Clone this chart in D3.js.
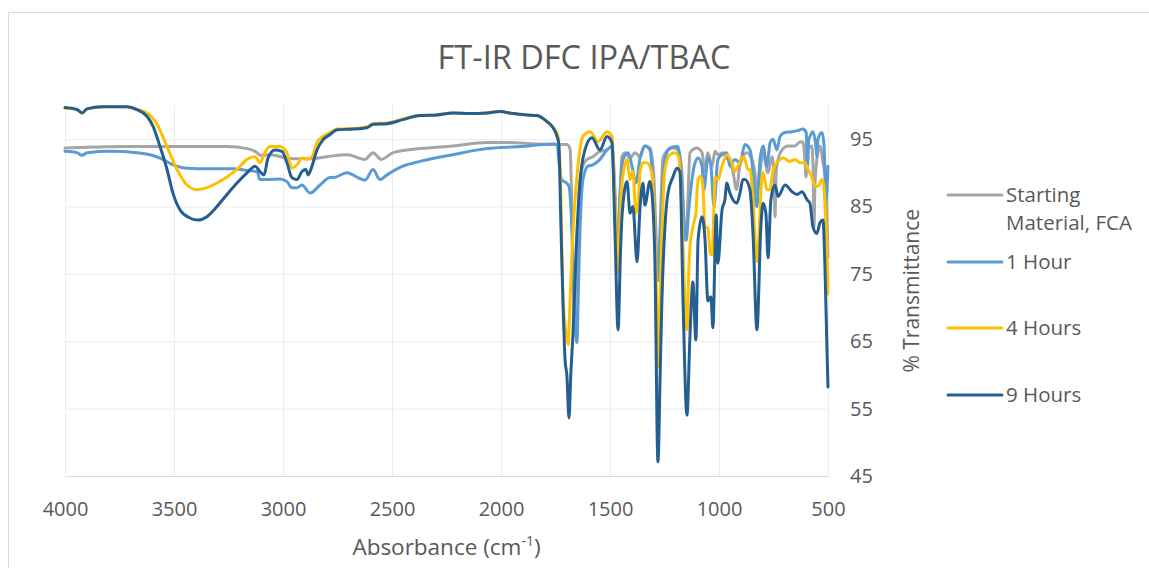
<!DOCTYPE html>
<html>
<head>
<meta charset="utf-8">
<script src="https://cdn.jsdelivr.net/npm/d3@7"></script>
<style>
  html, body { margin: 0; padding: 0; background: #fff; }
  svg { display: block; font-family: "Open Sans", sans-serif; }
</style>
</head>
<body>
<svg id="chart" width="1149" height="568"></svg>
<script>
// FT-IR spectra, [wavenumber cm-1, % transmittance], high -> low wavenumber
const startingMaterial = [
  [4000,93.7],[3900,93.8],[3716,93.9],[3413,93.9],[3257,93.9],[3165,93.6],[3119,93.0],[3106,92.6],
  [3060,92.7],[2982,92.2],[2954,92.1],[2862,92.1],[2798,92.4],[2706,92.7],[2624,92.0],[2587,93.0],
  [2550,92.0],[2495,93.0],[2372,93.6],[2220,94.0],[2064,94.5],[1972,94.5],[1835,94.3],[1697,94.2],
  [1683,93.5],[1672,80],[1662,66],[1652,72],[1640,88],[1625,91],[1606,92],[1578,92.4],[1546,93.2],
  [1514,93.4],[1491,94],[1478,88],[1465,78],[1455,86],[1445,92.4],[1431,93],[1408,92.2],[1385,93],
  [1362,92.4],[1340,94],[1317,93.7],[1300,90],[1290,82],[1280,75],[1270,82],[1257,92.2],[1234,93.4],
  [1211,93.7],[1188,93.4],[1170,90],[1156,80],[1145,84],[1133,93],[1101,93.7],[1078,93],[1064,90.2],
  [1051,93],[1032,91],[1018,93.2],[1005,92.7],[982,93],[964,92.2],[950,91.7],[935,90],[920,87.5],
  [905,91],[895,92],[872,93],[849,92],[835,90],[826,87],[812,90],[798,93],[775,90],[757,92.4],
  [748,90],[743,83.5],[738,90],[729,92],[711,93.4],[683,94],[651,94],[629,94.6],[615,94.6],[606,92],
  [601,89.4],[596,92],[592,93.4],[574,94],[568,90],[564,82],[560,88],[551,92],[537,94],[523,91.5],
  [512,89],[505,84],[500,77.5]
]

const oneHour = [
  [4000,93.2],[3945,93.0],[3922,92.6],[3899,93.0],[3794,93.2],[3670,93.0],[3610,92.7],[3564,92.2],
  [3505,91.2],[3440,90.7],[3335,90.6],[3229,90.6],[3151,90.3],[3119,90.2],[3106,89.0],[3074,89.0],
  [3014,89.1],[2982,88.7],[2959,87.8],[2936,87.8],[2913,88.2],[2876,87.0],[2830,88.2],[2784,89.3],
  [2771,89.3],[2706,90.0],[2656,89.3],[2624,88.9],[2587,90.5],[2555,89.0],[2523,89.7],[2450,91.0],
  [2372,91.7],[2220,92.7],[2064,93.6],[1913,93.9],[1761,94.3],[1743,94.2],[1732,91],[1722,89],
  [1700,88.5],[1688,88],[1678,84],[1665,72],[1652,64.8],[1644,74],[1638,81],[1624,89],[1601,91],
  [1578,91.2],[1546,92],[1514,93.4],[1491,93.9],[1478,86],[1466,76],[1455,86],[1440,92],[1417,93],
  [1399,91],[1381,88.5],[1362,92.2],[1340,94],[1317,93.4],[1300,86],[1290,78],[1280,74],[1270,80],
  [1262,86],[1248,92],[1225,93.7],[1188,93.9],[1170,88],[1160,82],[1150,80],[1140,84],[1124,89],
  [1110,91.5],[1096,92.2],[1078,91],[1069,87.5],[1051,92.2],[1037,91],[1023,85],[1005,92],[986,92.7],
  [964,93],[950,91],[927,92],[904,91.5],[881,94.2],[858,93.4],[844,90],[835,86],[826,85],[818,89],
  [812,92],[798,94],[780,91],[766,94.4],[752,95],[734,93.4],[720,95.4],[697,96],[665,96.1],[638,96.3],
  [615,96.5],[600,96],[594,91],[588,95],[583,95.4],[569,96.1],[556,94],[551,92.4],[546,95],[528,96],
  [519,94.5],[509,86],[500,91]
]

const fourHours = [
  [4000,99.6],[3945,99.4],[3922,98.9],[3899,99.5],[3826,99.8],[3716,99.8],[3670,99.4],[3624,98.9],
  [3578,97.2],[3532,93.9],[3486,90.5],[3440,88.2],[3395,87.5],[3349,87.8],[3303,88.5],[3257,89.4],
  [3211,90.5],[3165,92],[3128,92.4],[3106,91.5],[3083,93],[3060,93.9],[3014,93.9],[2982,93],
  [2959,90.7],[2936,91.2],[2913,92.2],[2890,92],[2867,92.4],[2844,94.5],[2817,95.4],[2784,96],
  [2752,96.5],[2679,96.6],[2615,96.8],[2587,97.3],[2523,97.4],[2450,98],[2372,98.5],[2294,98.6],
  [2220,98.9],[2142,98.8],[2064,98.9],[2005,99.1],[1945,98.8],[1881,98.6],[1835,98.5],[1789,97.6],
  [1761,96.8],[1738,95.4],[1728,90],[1715,71],[1700,66],[1692,64.5],[1682,72],[1670,81],[1647,91],
  [1624,95.4],[1592,96.1],[1555,94.6],[1514,96.1],[1491,95.4],[1480,88],[1472,81],[1463,75.1],
  [1455,82],[1445,88.5],[1422,92],[1408,89],[1395,90.2],[1381,84],[1370,86],[1362,90.2],[1349,91.5],
  [1331,91.5],[1308,90],[1296,82],[1289,76],[1280,61.2],[1270,72],[1262,81],[1248,90.5],[1225,92.7],
  [1202,93],[1184,92.2],[1173,86],[1165,78.6],[1147,66.7],[1138,76],[1133,79],[1120,82],[1106,84],
  [1096,89],[1083,89.5],[1074,88],[1064,82],[1051,81.8],[1040,78],[1032,77.8],[1023,85],[1018,89.3],
  [1005,89],[986,91],[964,92.7],[941,91.5],[927,90.2],[913,91],[890,92.4],[881,92],[867,90.5],
  [858,90.5],[844,86],[826,76.8],[815,82],[808,87],[798,90],[780,87.5],[766,87.5],[752,90.5],
  [729,91.7],[706,92.2],[674,91.7],[651,92],[629,91.5],[606,91.5],[592,90.5],[574,89.4],[560,88],
  [546,88],[528,89],[519,88],[512,84],[505,78.6],[500,72]
]

const nineHours = [
  [4000,99.7],[3945,99.4],[3922,98.9],[3899,99.5],[3826,99.8],[3716,99.8],[3670,99.4],[3624,98.4],
  [3596,96.9],[3564,93.9],[3532,90.5],[3505,87],[3472,84.5],[3427,83.3],[3390,83],[3349,83.5],
  [3303,85],[3257,86.8],[3211,88.5],[3165,90],[3128,91],[3106,90.2],[3087,89.7],[3069,92.2],
  [3037,93.4],[3005,93.2],[2982,91.5],[2959,89.3],[2936,89],[2913,90.2],[2895,90.5],[2885,89.7],
  [2867,91],[2844,93.4],[2817,94.9],[2784,95.7],[2752,96.4],[2679,96.5],[2615,96.7],[2587,97.2],
  [2523,97.3],[2450,97.9],[2372,98.5],[2294,98.6],[2220,98.9],[2142,98.8],[2064,98.9],[2005,99.1],
  [1945,98.8],[1881,98.6],[1835,98.5],[1789,97.6],[1761,96.7],[1743,95.4],[1735,94.3],[1725,82],
  [1715,70],[1706,62.2],[1698,60],[1688,53.6],[1680,60],[1670,66],[1652,81],[1638,88.5],[1615,93.4],
  [1583,95.2],[1546,93.4],[1514,95.4],[1491,94.5],[1477,81],[1463,66.7],[1452,78],[1445,83.5],
  [1422,88.7],[1408,84],[1395,85],[1376,76.8],[1362,85],[1349,88.5],[1340,85.2],[1317,88.7],
  [1305,86],[1294,77],[1280,47.1],[1270,60],[1262,71],[1248,82],[1234,87],[1211,89.4],[1193,90.7],
  [1179,90.2],[1165,71],[1147,54],[1133,66],[1120,73.8],[1106,65.2],[1096,80],[1078,83.5],[1064,80],
  [1051,71],[1037,71.6],[1028,67],[1013,83.8],[1005,76.6],[986,84.5],[973,86],[964,88.5],[950,87],
  [936,86],[918,85.5],[904,87],[890,89],[881,89],[858,87.5],[844,81],[826,66.7],[808,82],[798,85.5],
  [785,84],[775,77.4],[762,86],[743,88.2],[729,86.5],[697,88.2],[665,87.2],[642,86.8],[619,87.2],
  [596,86],[583,85.5],[569,82],[551,81],[537,82.6],[523,83],[514,76],[505,64.2],[500,58.2]
]

const seriesNames  = ['Starting Material, FCA', '1 Hour', '4 Hours', '9 Hours']
const seriesColors = ['#a5a5a5', '#5b9bd5', '#ffc000', '#255e91']
const seriesData   = [startingMaterial, oneHour, fourHours, nineHours]

const xTicks = [4000, 3500, 3000, 2500, 2000, 1500, 1000, 500]
const yTicks = [45, 55, 65, 75, 85, 95]

const svg = d3.select('#chart')
const textColor = '#595959'
const plot = {left: 65, right: 828, top: 105.5, bottom: 476}

const x = d3.scaleLinear().domain([4000, 500]).range([plot.left, plot.right])
const y = d3.scaleLinear().domain([45, 100]).range([plot.bottom, plot.top])

// chart area frame
svg.append('rect')
   .attr('x', 8.5).attr('y', 12.5)
   .attr('width', 1160).attr('height', 600)
   .attr('fill', '#fff').attr('stroke', '#d9d9d9')

svg.append('text')
   .attr('x', 584).attr('y', 69)
   .attr('text-anchor', 'middle')
   .attr('fill', textColor)
   .style('font-size', '32.5px')
   .text('FT-IR DFC IPA/TBAC')

// gridlines (very faint)
const xGrid = svg.append('g')
   .attr('transform', `translate(0,${plot.bottom})`)
   .call(d3.axisBottom(x).tickValues(xTicks).tickSize(-(plot.bottom - plot.top)).tickFormat(''))
const yGrid = svg.append('g')
   .attr('transform', `translate(${plot.left},0)`)
   .call(d3.axisLeft(y).tickValues(yTicks).tickSize(-(plot.right - plot.left)).tickFormat(''))
for (const g of [xGrid, yGrid]) {
  g.select('.domain').remove()
  g.selectAll('line').attr('stroke', '#ececec').attr('stroke-width', 1)
}

// axes
const xAxis = svg.append('g')
   .attr('transform', `translate(0,${plot.bottom})`)
   .call(d3.axisBottom(x).tickValues(xTicks).tickSize(0).tickPadding(26).tickFormat(d3.format('d')))
xAxis.select('.domain').attr('stroke', '#d9d9d9')

const yAxis = svg.append('g')
   .attr('transform', `translate(${plot.right},0)`)
   .call(d3.axisRight(y).tickValues(yTicks).tickSize(0).tickPadding(22))
yAxis.select('.domain').remove()

for (const g of [xAxis, yAxis]) {
  g.selectAll('text')
   .attr('fill', textColor)
   .style('font-family', '"Open Sans", sans-serif')
   .style('font-size', '20px')
}

const xTitle = svg.append('text')
   .attr('x', (plot.left + plot.right) / 2).attr('y', 555)
   .attr('text-anchor', 'middle')
   .attr('fill', textColor)
   .style('font-size', '22.5px')
xTitle.append('tspan').text('Absorbance (cm')
xTitle.append('tspan').attr('dy', -9).style('font-size', '14px').text('-1')
xTitle.append('tspan').attr('dy', 9).text(')')

svg.append('text')
   .attr('transform', `translate(919,${(plot.top + plot.bottom) / 2}) rotate(-90)`)
   .attr('text-anchor', 'middle')
   .attr('fill', textColor)
   .style('font-size', '21px')
   .text('% Transmittance')

// spectra
const line = d3.line()
   .x(d => x(d[0]))
   .y(d => y(d[1]))
   .curve(d3.curveMonotoneX)

svg.append('g')
   .selectAll('path')
   .data(seriesData)
   .join('path')
   .attr('d', line)
   .attr('fill', 'none')
   .attr('stroke', (d, i) => seriesColors[i])
   .attr('stroke-width', 3)
   .attr('stroke-linejoin', 'round')
   .attr('stroke-linecap', 'round')

// legend
const legendY = [195, 262, 328, 395]
const legend = svg.append('g')
   .selectAll('g')
   .data(seriesNames)
   .join('g')
   .attr('transform', (d, i) => `translate(948,${legendY[i]})`)

legend.append('line')
   .attr('x1', 0).attr('x2', 54)
   .attr('stroke', (d, i) => seriesColors[i])
   .attr('stroke-width', 3)
   .attr('stroke-linecap', 'round')

legend.append('text')
   .attr('x', 58)
   .attr('fill', textColor)
   .style('font-size', '20.5px')
   .each(function (d) {
     const parts = d === 'Starting Material, FCA' ? ['Starting', 'Material, FCA'] : [d]
     const t = d3.select(this)
     parts.forEach((p, k) => {
       t.append('tspan').attr('x', 58).attr('dy', k === 0 ? '0.35em' : 28).text(p)
     })
   })
</script>
</body>
</html>
